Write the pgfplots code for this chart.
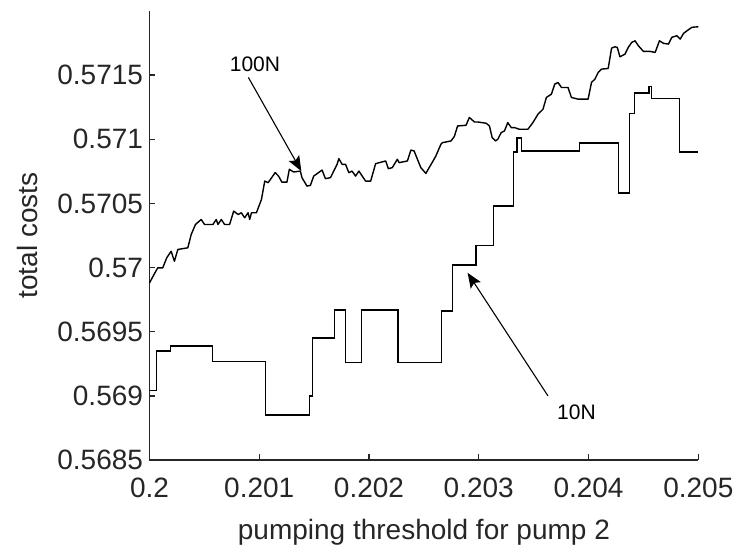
\documentclass[border=0pt]{standalone}
\usepackage{fontspec}
\setmainfont{Liberation Sans}
\usepackage{pgfplots}
\usepackage{pgfplotstable}
\pgfplotsset{compat=1.18}
\usetikzlibrary{arrows.meta}
\definecolor{axisgray}{HTML}{262626}

% total costs against the pumping threshold, N = 100 samples
\pgfplotstableread{
x y
0.200000 0.569880
0.200029 0.569927
0.200075 0.569998
0.200121 0.569998
0.200157 0.570076
0.200197 0.570127
0.200227 0.570049
0.200258 0.570141
0.200349 0.570154
0.200380 0.570258
0.200419 0.570336
0.200471 0.570375
0.200501 0.570336
0.200578 0.570336
0.200608 0.570375
0.200624 0.570336
0.200654 0.570375
0.200684 0.570336
0.200730 0.570336
0.200767 0.570440
0.200807 0.570414
0.200837 0.570427
0.200867 0.570388
0.200898 0.570427
0.200913 0.570375
0.200929 0.570427
0.200974 0.570427
0.201020 0.570531
0.201050 0.570674
0.201081 0.570662
0.201145 0.570740
0.201176 0.570713
0.201206 0.570666
0.201252 0.570666
0.201274 0.570766
0.201313 0.570745
0.201374 0.570752
0.201389 0.570701
0.201435 0.570635
0.201466 0.570641
0.201496 0.570713
0.201572 0.570760
0.201603 0.570693
0.201649 0.570701
0.201709 0.570805
0.201725 0.570849
0.201755 0.570805
0.201786 0.570805
0.201816 0.570740
0.201846 0.570752
0.201877 0.570713
0.201908 0.570752
0.201938 0.570713
0.201969 0.570674
0.202015 0.570674
0.202060 0.570810
0.202152 0.570831
0.202176 0.570771
0.202212 0.570779
0.202258 0.570844
0.202274 0.570818
0.202350 0.570831
0.202381 0.570916
0.202411 0.570909
0.202441 0.570844
0.202472 0.570779
0.202518 0.570734
0.202548 0.570779
0.202578 0.570823
0.202609 0.570870
0.202655 0.570961
0.202670 0.570974
0.202747 0.570987
0.202777 0.571021
0.202807 0.571104
0.202884 0.571109
0.202914 0.571170
0.202960 0.571135
0.202990 0.571135
0.203067 0.571125
0.203097 0.571104
0.203122 0.571013
0.203152 0.570987
0.203173 0.571000
0.203204 0.571052
0.203234 0.571065
0.203264 0.571130
0.203296 0.571091
0.203326 0.571091
0.203371 0.571078
0.203447 0.571078
0.203493 0.571130
0.203539 0.571195
0.203585 0.571234
0.203616 0.571326
0.203662 0.571352
0.203692 0.571430
0.203722 0.571443
0.203753 0.571404
0.203813 0.571404
0.203844 0.571326
0.203905 0.571313
0.203996 0.571313
0.204027 0.571443
0.204058 0.571469
0.204088 0.571521
0.204119 0.571547
0.204179 0.571552
0.204210 0.571711
0.204241 0.571721
0.204262 0.571716
0.204286 0.571643
0.204332 0.571664
0.204362 0.571716
0.204393 0.571755
0.204424 0.571768
0.204454 0.571729
0.204500 0.571685
0.204561 0.571685
0.204607 0.571677
0.204646 0.571768
0.204683 0.571748
0.204728 0.571742
0.204759 0.571795
0.204805 0.571807
0.204835 0.571781
0.204866 0.571826
0.204897 0.571846
0.204942 0.571873
0.205000 0.571877
}\hundredN

% N = 10 samples: piecewise constant, each value holds from its x onwards
\pgfplotstableread{
x y
0.200000 0.569040
0.200062 0.569350
0.200194 0.569390
0.200575 0.569270
0.201059 0.568850
0.201459 0.569000
0.201487 0.569450
0.201688 0.569670
0.201786 0.569260
0.201932 0.569670
0.202264 0.569260
0.202661 0.569660
0.202761 0.570020
0.202975 0.570170
0.203136 0.570480
0.203317 0.570900
0.203347 0.571010
0.203387 0.570910
0.203920 0.570970
0.204271 0.570580
0.204371 0.571200
0.204417 0.571360
0.204552 0.571410
0.204576 0.571320
0.204829 0.570900
0.205000 0.570900
}\tenN

\begin{document}
\begin{tikzpicture}
\useasboundingbox (-149.5bp,-89bp) rectangle (587.5bp,460bp);
\begin{axis}[
  scale only axis,
  width=548.8bp, height=449bp,
  xmin=0.2, xmax=0.205,
  ymin=0.5685, ymax=0.572,
  clip=false,
  axis lines*=left,
  axis line style={axisgray, line width=1.3bp},
  tick style={axisgray, line width=1.3bp},
  major tick length=6bp,
  tick align=inside,
  xtick={0.2,0.201,0.202,0.203,0.204,0.205},
  xticklabels={0.2,0.201,0.202,0.203,0.204,0.205},
  ytick={0.5685,0.569,0.5695,0.57,0.5705,0.571,0.5715},
  yticklabels={0.5685,0.569,0.5695,0.57,0.5705,0.571,0.5715},
  ticklabel style={font=\fontsize{28bp}{32bp}\selectfont, text=axisgray},
  xticklabel style={yshift=-14bp},
  yticklabel style={xshift=-3bp},
  xlabel={pumping threshold for pump 2},
  ylabel={total costs},
  label style={font=\fontsize{28bp}{32bp}\selectfont, text=axisgray},
  xlabel style={at={(axis description cs:0.5,-0.176)}, anchor=base},
  ylabel style={at={(axis description cs:-0.204,0.5)}, anchor=base},
]
\addplot[black, line width=1.4bp, line join=round] table[x=x, y=y] {\hundredN};
\addplot[black, line width=1.4bp, const plot] table[x=x, y=y] {\tenN};

% labels for the two curves
\draw[-{Stealth[length=15bp, width=12bp, inset=3bp]}, line width=1.1bp, black]
  (axis cs:0.200901,0.571482) -- (axis cs:0.201383,0.570752);
\node[font=\fontsize{21bp}{24bp}\selectfont, text=black]
  at (axis cs:0.200961,0.571588) {100N};
\draw[-{Stealth[length=15bp, width=12bp, inset=3bp]}, line width=1.1bp, black]
  (axis cs:0.203630,0.569000) -- (axis cs:0.202898,0.569959);
\node[font=\fontsize{21bp}{24bp}\selectfont, text=black]
  at (axis cs:0.203890,0.568873) {10N};
\end{axis}
\end{tikzpicture}
\end{document}
